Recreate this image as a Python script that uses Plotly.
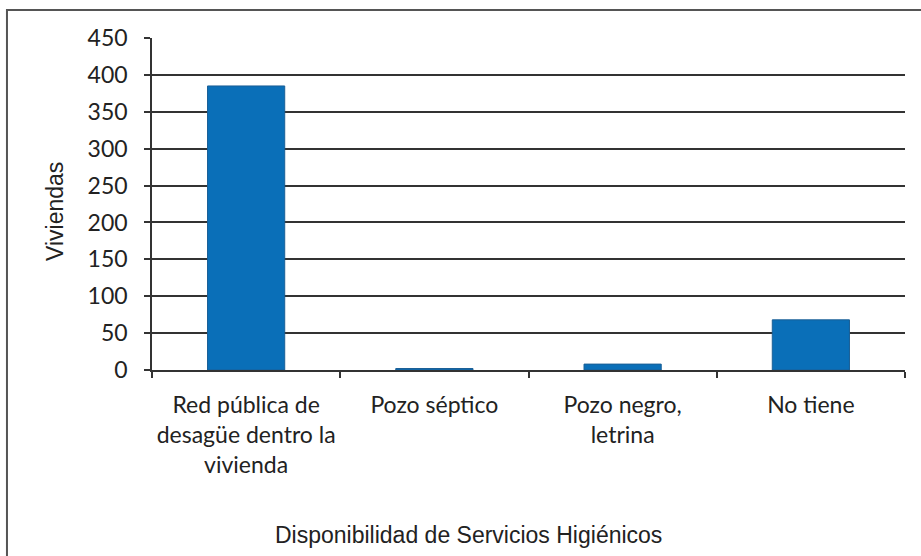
import plotly.graph_objects as go

# Household sanitation availability counts
categorias = [
    "Red pública de<br>desagüe dentro la<br>vivienda",
    "Pozo séptico",
    "Pozo negro,<br>letrina",
    "No tiene",
]
viviendas = [385, 2, 8, 68]
y_ticks = [0, 50, 100, 150, 200, 250, 300, 350, 400, 450]

x_title = "Disponibilidad de Servicios Higiénicos"
y_title = "Viviendas"

fig = go.Figure(
    go.Bar(
        x=categorias,
        y=viviendas,
        marker=dict(color="#0a6fb8", line=dict(color="#1a5f96", width=1)),
    )
)

tick_font = dict(family="Lato, Open Sans, sans-serif", size=23, color="#222")
title_font = dict(family="Liberation Sans, Arial, sans-serif", size=23, color="#222")

fig.update_layout(
    width=921,
    height=556,
    margin=dict(l=152, r=16, t=38, b=186),
    paper_bgcolor="white",
    plot_bgcolor="white",
    bargap=0.59,
    showlegend=False,
    xaxis=dict(
        automargin=False,
        tickangle=0,
        tickson="boundaries",
        ticks="outside",
        ticklen=6,
        tickcolor="#333",
        tickwidth=1.5,
        ticklabelstandoff=14,
        showline=True,
        linecolor="#333",
        linewidth=1.5,
        tickfont=tick_font,
    ),
    yaxis=dict(
        automargin=False,
        range=[0, 450],
        tickvals=y_ticks,
        ticks="outside",
        ticklen=6,
        tickcolor="#333",
        tickwidth=1.5,
        ticklabelstandoff=12,
        showline=True,
        linecolor="#333",
        linewidth=1.5,
        showgrid=True,
        gridcolor="#333",
        gridwidth=1.5,
        zeroline=False,
        tickfont=tick_font,
    ),
    # Axis titles are centred on the whole chart frame rather than the plot area
    annotations=[
        dict(
            text=x_title,
            xref="paper",
            yref="paper",
            x=0.42,
            y=-0.497,
            xanchor="center",
            yanchor="middle",
            showarrow=False,
            font=title_font,
        ),
        dict(
            text=y_title,
            xref="paper",
            yref="paper",
            x=-0.1288,
            y=0.476,
            xanchor="center",
            yanchor="middle",
            textangle=-90,
            showarrow=False,
            font=title_font,
        ),
    ],
    shapes=[
        dict(
            type="rect",
            xref="paper",
            yref="paper",
            x0=-0.1926,
            x1=1.06,
            y0=-0.6,
            y1=1.084,
            line=dict(color="#555", width=2),
            fillcolor="rgba(0,0,0,0)",
            layer="below",
        )
    ],
)

fig.write_html("out.html")
